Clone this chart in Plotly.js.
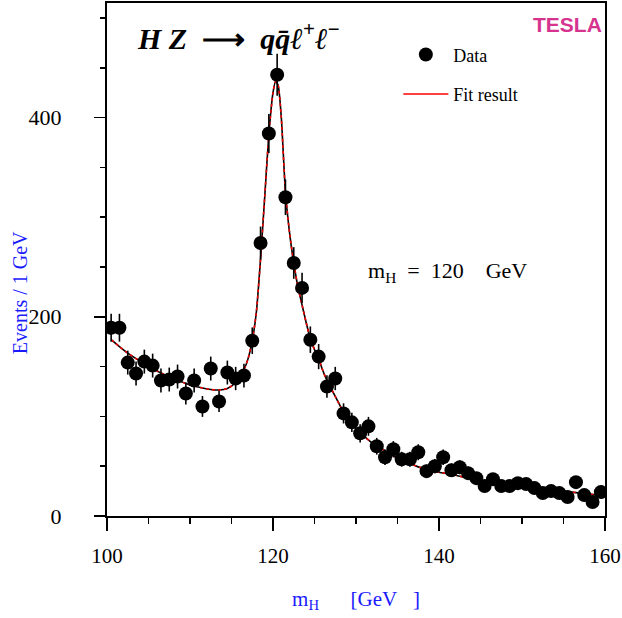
<!DOCTYPE html>
<html>
<head>
<meta charset="utf-8">
<script src="https://cdn.plot.ly/plotly-3.0.1.min.js"></script>
<style>
  html, body { margin: 0; padding: 0; background: #fff; }
  #chart { width: 622px; height: 618px; }
</style>
</head>
<body>
<div id="chart"></div>
<script>
// ---- Data ----
const massBins = [
  100.5, 101.5, 102.5, 103.5, 104.5, 105.5, 106.5, 107.5, 108.5, 109.5,
  110.5, 111.5, 112.5, 113.5, 114.5, 115.5, 116.5, 117.5, 118.5, 119.5,
  120.5, 121.5, 122.5, 123.5, 124.5, 125.5, 126.5, 127.5, 128.5, 129.5,
  130.5, 131.5, 132.5, 133.5, 134.5, 135.5, 136.5, 137.5, 138.5, 139.5,
  140.5, 141.5, 142.5, 143.5, 144.5, 145.5, 146.5, 147.5, 148.5, 149.5,
  150.5, 151.5, 152.5, 153.5, 154.5, 155.5, 156.5, 157.5, 158.5, 159.5
];
const events = [
  189, 189, 154, 143, 155, 151, 136, 137, 140, 123,
  136, 110, 148, 115, 144, 138, 141, 176, 274, 384,
  443, 320, 254, 229, 177, 160, 130, 138, 103, 94,
  83, 90, 70, 59, 67, 57, 57, 64, 45, 50,
  59, 46, 49, 43, 38, 30, 37, 30, 30, 33,
  32, 28, 23, 25, 23, 19, 34, 21, 14, 24
];
const eventErrors = [
  14, 14, 12, 12, 12, 12, 12, 12, 12, 11,
  12, 10.5, 12, 10.7, 12, 11.7, 11.9, 13.3, 16.6, 19.6,
  21, 17.9, 15.9, 15.1, 13.3, 12.6, 11.4, 11.7, 10.1, 9.7,
  9.1, 9.5, 8.4, 7.7, 8.2, 7.5, 7.5, 8, 6.7, 7.1,
  7.7, 6.8, 7, 6.6, 6.2, 5.5, 6.1, 5.5, 5.5, 5.7,
  5.7, 5.3, 4.8, 5, 4.8, 4.4, 5.8, 4.6, 3.7, 4.9
];
const fitMass = [
  100.5, 101.5, 102.5, 103.5, 104.5, 105.5, 106.5, 107.5, 108.5, 109.5,
  110.5, 111.5, 112.5, 113.5, 114.5, 115.5, 116.5, 117, 117.5, 118,
  118.5, 119, 119.5, 120, 120.3, 120.6, 121, 121.5, 122, 122.5,
  123, 123.5, 124, 124.5, 125, 125.5, 126, 126.5, 127, 127.5,
  128, 128.5, 129, 130, 131, 132, 133, 134, 135, 136,
  137, 138, 139, 140, 142, 144, 146, 148, 150, 152,
  154, 156, 158, 160
];
const fitValues = [
  177, 170, 163.5, 158, 153, 148, 143.5, 140, 136.5, 133,
  130.5, 128.5, 127, 126.5, 128, 134, 147, 158, 176, 205,
  258, 320, 383, 425, 436, 433, 400, 325, 284, 254,
  230, 212, 194, 178, 167, 158, 146, 136, 128, 120,
  112, 104, 98, 88, 80, 73, 68, 63, 58, 55,
  51, 48, 46, 44, 41, 37, 34, 32, 30, 28,
  26, 24, 22, 21
];
const xTickVals = [100, 120, 140, 160];
const yTickVals = [0, 200, 400];

const serif = "Liberation Serif, Times New Roman, serif";
const nb = '\u00a0';

const traces = [
  {
    x: fitMass, y: fitValues, type: 'scatter', mode: 'lines',
    line: {color: 'black', width: 1.6, shape: 'spline', smoothing: 0.6},
    showlegend: false, hoverinfo: 'skip'
  },
  {
    x: fitMass, y: fitValues, type: 'scatter', mode: 'lines',
    line: {color: '#ee0000', width: 1.6, dash: '3px,3px', shape: 'spline', smoothing: 0.6},
    showlegend: false, hoverinfo: 'skip'
  },
  {
    x: massBins, y: events, type: 'scatter', mode: 'markers', name: 'Data',
    marker: {color: 'black', size: 14, symbol: 'circle'},
    error_y: {type: 'data', array: eventErrors, visible: true, color: 'black', thickness: 1.6, width: 0},
    legendgroup: 'a'
  },
  {
    x: [null], y: [null], type: 'scatter', mode: 'lines', name: 'Fit result',
    line: {color: '#ff0000', width: 1.6},
    legendgroup: 'b'
  }
];

const layout = {
  width: 622, height: 618,
  margin: {l: 107, r: 17, t: 3, b: 102},
  paper_bgcolor: 'white', plot_bgcolor: 'white',
  font: {family: serif, color: 'black', size: 20},
  showlegend: true,
  legend: {
    x: 0.585, y: 0.935, xanchor: 'left', yanchor: 'top',
    bgcolor: 'rgba(0,0,0,0)', borderwidth: 0,
    font: {family: serif, size: 18, color: 'black'},
    traceorder: 'grouped', tracegroupgap: 13, itemwidth: 45
  },
  xaxis: {
    range: [100, 160], tickvals: xTickVals, ticktext: xTickVals.map(String),
    ticks: 'outside', ticklen: 13, tickwidth: 1.5, tickcolor: 'black',
    minor: {dtick: 5, tick0: 100, ticks: 'outside', ticklen: 6, tickwidth: 1.5, tickcolor: 'black'},
    showline: true, linewidth: 2, linecolor: 'black', mirror: true,
    showgrid: false, zeroline: false,
    tickfont: {family: serif, size: 21, color: 'black'},
    ticklabelstandoff: 7, ticklabeloverflow: 'allow',
    title: {text: 'm<sub>H</sub>' + nb + nb + nb + nb + nb + nb + '[GeV' + nb + nb + nb + ']', font: {family: serif, size: 21, color: '#1a1aff'}, standoff: 24}
  },
  yaxis: {
    range: [0, 515], tickvals: yTickVals, ticktext: yTickVals.map(String),
    ticks: 'outside', ticklen: 11, tickwidth: 1.5, tickcolor: 'black',
    minor: {dtick: 50, tick0: 0, ticks: 'outside', ticklen: 5, tickwidth: 1.5, tickcolor: 'black'},
    showline: true, linewidth: 2, linecolor: 'black', mirror: true,
    showgrid: false, zeroline: false,
    tickfont: {family: serif, size: 22, color: 'black'},
    ticklabelstandoff: 28, ticklabeloverflow: 'allow',
    title: {text: ''}
  },
  annotations: [
    {
      xref: 'paper', yref: 'paper', x: -0.176, y: 0.435, xanchor: 'center', yanchor: 'middle',
      text: 'Events / 1 GeV', textangle: -90, showarrow: false,
      font: {family: serif, size: 20, color: '#1a1aff'}
    },
    {
      xref: 'paper', yref: 'paper', x: 0.057, y: 0.935, xanchor: 'left', yanchor: 'middle',
      text: '<b><i>H' + nb + 'Z</i>' + nb + nb + '\u27f6' + nb + nb + '<i>q\u0071\u0304\u2113</i><sup>+</sup><i>\u2113</i><sup>\u2212</sup></b>',
      showarrow: false, font: {family: serif, size: 30, color: 'black'}
    },
    {
      xref: 'paper', yref: 'paper', x: 0.998, y: 0.958, xanchor: 'right', yanchor: 'middle',
      text: '<b>TESLA</b>', showarrow: false,
      font: {family: 'Liberation Sans, Arial, sans-serif', size: 21, color: '#d6338f'}
    },
    {
      xref: 'paper', yref: 'paper', x: 0.52, y: 0.475, xanchor: 'left', yanchor: 'middle',
      text: 'm<sub>H</sub>' + nb + nb + '=' + nb + nb + '120' + nb + nb + nb + nb + 'GeV', showarrow: false,
      font: {family: serif, size: 22, color: 'black'}
    }
  ]
};

Plotly.newPlot('chart', traces, layout, {displayModeBar: false, staticPlot: true});
</script>
</body>
</html>
